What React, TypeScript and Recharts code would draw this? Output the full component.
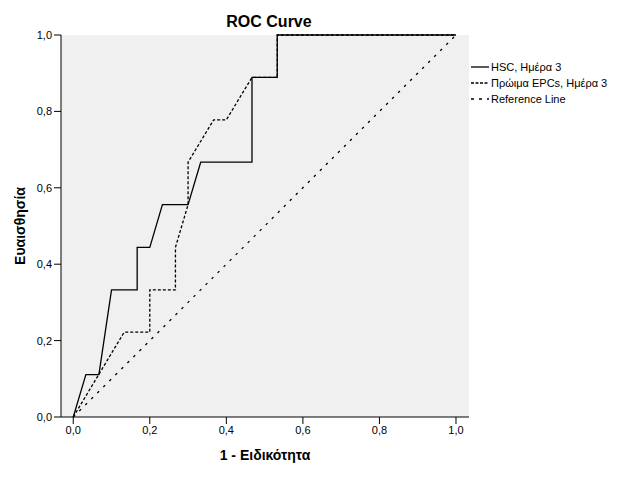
import React from "react";
import {
  LineChart,
  Line,
  XAxis,
  YAxis,
  CartesianGrid,
} from "recharts";

const hscFpr = [0, 0.033, 0.067, 0.1, 0.167, 0.167, 0.2, 0.233, 0.3, 0.333, 0.467, 0.467, 0.533, 0.533, 1];
const hscTpr = [0, 0.111, 0.111, 0.333, 0.333, 0.444, 0.444, 0.556, 0.556, 0.667, 0.667, 0.889, 0.889, 1, 1];

const epcFpr = [0, 0.133, 0.2, 0.2, 0.267, 0.267, 0.3, 0.3, 0.367, 0.4, 0.467, 0.533, 0.533, 1];
const epcTpr = [0, 0.222, 0.222, 0.333, 0.333, 0.444, 0.556, 0.667, 0.778, 0.778, 0.889, 0.889, 1, 1];

const refFpr = [0, 1];
const refTpr = [0, 1];

const ticks = [0, 0.2, 0.4, 0.6, 0.8, 1];

const seriesNames = ["HSC, Ημέρα 3", "Πρώιμα EPCs, Ημέρα 3", "Reference Line"];

const toPoints = (xs: number[], ys: number[]) => xs.map((x, i) => ({ x, y: ys[i] }));

const hscData = toPoints(hscFpr, hscTpr);
const epcData = toPoints(epcFpr, epcTpr);
const refData = toPoints(refFpr, refTpr);

const FONT = '"Liberation Sans", Arial, sans-serif';
const fmt = (v: number) => v.toFixed(1).replace(".", ",");

const legendDash = ["", "3 1.5", "3 5"];

function LegendBox() {
  return (
    <div
      style={{
        position: "absolute",
        left: 471,
        top: 59,
        fontFamily: FONT,
        fontSize: 11,
        color: "#000",
      }}
    >
      {seriesNames.map((name, i) => (
        <div key={name} style={{ display: "flex", alignItems: "center", height: 16 }}>
          <svg width={19} height={6} style={{ marginRight: 1 }}>
            <line x1={0} y1={3} x2={18} y2={3} stroke="#000" strokeWidth={1.3} strokeDasharray={legendDash[i]} />
          </svg>
          <span>{name}</span>
        </div>
      ))}
    </div>
  );
}

export default function App() {
  return (
    <div style={{ position: "absolute", left: 0, top: 0, width: 626, height: 501, background: "#fff" }}>
      <div
        style={{
          position: "absolute",
          left: 165,
          width: 208,
          top: 12,
          textAlign: "center",
          fontFamily: FONT,
          fontWeight: "bold",
          fontSize: 16,
          lineHeight: "20px",
        }}
      >
        ROC Curve
      </div>
      <LineChart
        width={626}
        height={501}
        margin={{ top: 35, right: 157, left: 11, bottom: 54 }}
        style={{ fontFamily: FONT }}
      >
        <CartesianGrid xAxisId="main" yAxisId="main" fill="#f0f0f0" stroke="none" />
        <XAxis
          xAxisId="main"
          type="number"
          dataKey="x"
          domain={[-0.032, 1.034]}
          allowDataOverflow
          ticks={ticks}
          tickFormatter={fmt}
          tick={{ fill: "#000", fontSize: 11 }}
          tickSize={7}
          tickLine={{ stroke: "#000" }}
          axisLine={{ stroke: "#000" }}
          height={30}
          label={{
            value: "1 - Ειδικότητα",
            position: "insideBottom",
            offset: -13,
            style: { fill: "#000", fontWeight: "bold", fontSize: 14 },
          }}
        />
        <XAxis
          xAxisId="top"
          orientation="top"
          type="number"
          domain={[0, 1]}
          tick={false}
          tickLine={false}
          axisLine={{ stroke: "#808080", strokeWidth: 1.5 }}
          height={0}
        />
        <YAxis
          yAxisId="main"
          type="number"
          domain={[0, 1]}
          ticks={ticks}
          tickFormatter={fmt}
          tick={{ fill: "#000", fontSize: 11 }}
          tickSize={7}
          tickLine={{ stroke: "#000" }}
          axisLine={{ stroke: "#000" }}
          width={50}
          label={{
            value: "Ευαισθησία",
            angle: -90,
            position: "insideLeft",
            offset: 9,
            style: { fill: "#000", fontWeight: "bold", fontSize: 14, textAnchor: "middle" },
          }}
        />
        <YAxis
          yAxisId="right"
          orientation="right"
          type="number"
          domain={[0, 1]}
          tick={false}
          tickLine={false}
          axisLine={{ stroke: "#000" }}
          width={0}
        />
        <Line
          xAxisId="main"
          yAxisId="main"
          data={refData}
          dataKey="y"
          name={seriesNames[2]}
          stroke="#000"
          strokeWidth={1.3}
          strokeDasharray="2.5 6"
          dot={false}
          type="linear"
          isAnimationActive={false}
        />
        <Line
          xAxisId="main"
          yAxisId="main"
          data={epcData}
          dataKey="y"
          name={seriesNames[1]}
          stroke="#000"
          strokeWidth={1.3}
          strokeDasharray="3 2"
          dot={false}
          type="linear"
          isAnimationActive={false}
        />
        <Line
          xAxisId="main"
          yAxisId="main"
          data={hscData}
          dataKey="y"
          name={seriesNames[0]}
          stroke="#000"
          strokeWidth={1.3}
          dot={false}
          type="linear"
          isAnimationActive={false}
        />
      </LineChart>
      <LegendBox />
    </div>
  );
}
